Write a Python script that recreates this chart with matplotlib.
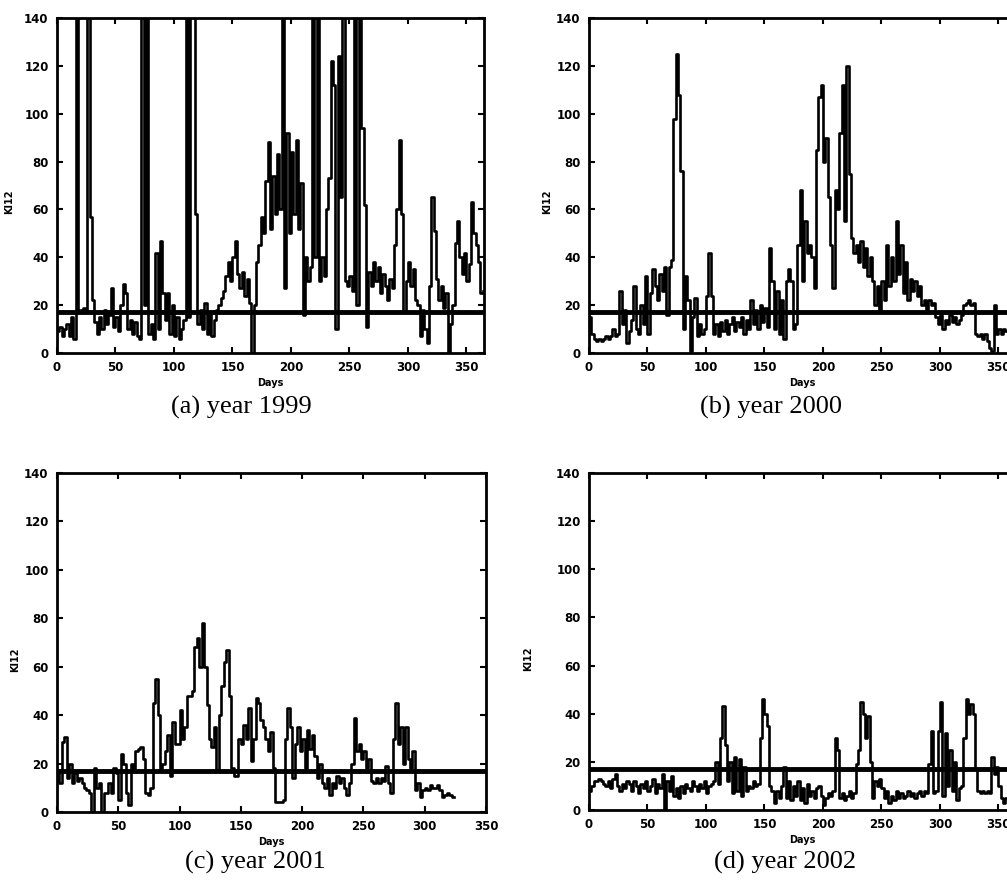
import numpy as np
import matplotlib
matplotlib.use('Agg')
import matplotlib.pyplot as plt

# daily index values, one reading every 2 days
vals_1999 = [9, 11, 7, 10, 12, 7, 15, 6, 160, 17,
             18, 19, 18, 160, 57, 22, 13, 8, 15, 10,
             18, 12, 16, 27, 11, 15, 9, 20, 29, 25,
             10, 14, 8, 13, 7, 6, 160, 20, 160, 8,
             12, 6, 42, 10, 47, 25, 14, 25, 8, 20,
             7, 15, 6, 10, 14, 160, 15, 160, 160, 58,
             12, 18, 10, 21, 8, 16, 7, 14, 18, 20,
             23, 26, 32, 38, 30, 40, 47, 33, 27, 34,
             24, 31, 21, 0, 20, 38, 45, 57, 50, 72,
             88, 52, 74, 58, 83, 60, 160, 27, 92, 50,
             84, 58, 89, 52, 71, 16, 40, 30, 36, 160,
             40, 160, 30, 40, 32, 60, 73, 122, 112, 10,
             124, 65, 160, 30, 28, 32, 26, 160, 20, 160,
             94, 62, 11, 34, 28, 38, 30, 36, 25, 33,
             28, 22, 31, 27, 45, 60, 89, 58, 17, 30,
             38, 28, 35, 22, 20, 7, 18, 10, 4, 28,
             65, 51, 31, 22, 28, 19, 25, 0, 12, 20,
             46, 55, 40, 33, 42, 30, 37, 63, 50, 45,
             38, 25, 26]

vals_2000 = [15, 8, 6, 5, 6, 5, 6, 7, 6, 7,
             10, 7, 8, 26, 12, 18, 4, 9, 14, 28,
             10, 8, 20, 12, 32, 8, 25, 35, 28, 22,
             33, 26, 36, 16, 36, 39, 98, 125, 108, 76,
             10, 32, 22, 1, 15, 23, 7, 12, 8, 10,
             24, 42, 24, 8, 12, 7, 13, 9, 14, 8,
             12, 15, 9, 13, 11, 15, 8, 14, 10, 22,
             12, 18, 10, 20, 13, 19, 11, 44, 30, 10,
             26, 8, 22, 6, 30, 35, 30, 10, 12, 45,
             68, 30, 55, 42, 45, 40, 27, 85, 107, 112,
             80, 90, 65, 45, 27, 68, 60, 92, 112, 55,
             120, 75, 48, 42, 45, 38, 47, 36, 44, 32,
             40, 30, 20, 28, 18, 30, 22, 45, 28, 40,
             30, 55, 33, 45, 25, 38, 22, 31, 26, 30,
             24, 28, 20, 22, 18, 22, 20, 21, 15, 12,
             16, 10, 14, 12, 16, 13, 15, 12, 14, 16,
             20, 21, 22, 20, 21, 8, 7, 8, 6, 8,
             5, 2, 1, 20, 8, 10, 8, 10, 9, 10,
             10, 9, 10]

vals_2001 = [17, 12, 29, 31, 14, 20, 12, 16, 13, 14,
             12, 10, 9, 8, 0, 18, 10, 12, 0, 8,
             8, 12, 8, 18, 16, 5, 24, 20, 8, 3,
             20, 18, 25, 26, 27, 22, 8, 7, 10, 45,
             55, 40, 18, 20, 25, 32, 15, 37, 28, 28,
             42, 30, 35, 48, 48, 50, 68, 72, 60, 78,
             60, 44, 30, 27, 35, 17, 40, 52, 62, 67,
             48, 18, 15, 15, 30, 28, 36, 30, 43, 21,
             30, 47, 45, 38, 35, 30, 25, 33, 18, 4,
             4, 4, 5, 30, 43, 35, 14, 28, 35, 25,
             30, 18, 34, 26, 32, 23, 14, 20, 12, 10,
             14, 7, 12, 10, 15, 12, 14, 10, 7, 12,
             20, 39, 25, 28, 22, 25, 18, 22, 13, 12,
             14, 12, 14, 13, 19, 12, 8, 30, 45, 28,
             35, 20, 35, 22, 18, 25, 9, 12, 6, 9,
             10, 9, 11, 10, 10, 11, 9, 6, 7, 8,
             7, 6, 6]

vals_2002 = [8, 10, 12, 12, 13, 12, 11, 10, 12, 9,
             13, 15, 10, 8, 11, 9, 12, 11, 8, 12,
             10, 7, 11, 9, 12, 8, 10, 13, 7, 11,
             9, 15, 0, 12, 8, 14, 6, 9, 5, 10,
             7, 11, 9, 8, 12, 10, 8, 11, 9, 12,
             7, 10, 11, 12, 20, 11, 30, 43, 27, 12,
             20, 7, 22, 8, 21, 6, 18, 8, 10, 9,
             12, 10, 11, 30, 46, 40, 35, 10, 8, 3,
             8, 5, 10, 18, 5, 12, 4, 10, 6, 12,
             4, 9, 3, 11, 6, 8, 5, 9, 10, 6,
             2, 5, 7, 6, 8, 30, 25, 5, 7, 4,
             6, 8, 5, 7, 19, 25, 45, 40, 30, 39,
             20, 5, 12, 10, 13, 9, 5, 8, 3, 6,
             4, 8, 5, 7, 5, 6, 8, 6, 7, 5,
             7, 8, 6, 8, 7, 19, 33, 7, 8, 33,
             45, 6, 32, 10, 25, 8, 20, 4, 9, 10,
             30, 46, 40, 44, 40, 17, 8, 7, 8, 7,
             8, 7, 22, 15, 18, 10, 5, 3, 5, 4,
             6, 5, 7]

THRESH = 17
titles = ['(a) year 1999', '(b) year 2000', '(c) year 2001', '(d) year 2002']
series = [vals_1999, vals_2000, vals_2001, vals_2002]
xlims = [365, 365, 350, 365]

W, H = 1007, 892
fig = plt.figure(figsize=(W / 100, H / 100), dpi=100)

# axes boxes in pixels: left, top, right, bottom
boxes = [(57, 18, 484, 353), (589, 18, 1016, 353),
         (57, 473, 486, 812), (589, 473, 1016, 810)]
title_pos = [(241, 407), (771, 407), (255, 862), (785, 862)]
ylab_x = [14, 552, 20, 533]

for k in range(4):
    l, t, r, b = boxes[k]
    ax = fig.add_axes([l / W, 1 - b / H, (r - l) / W, (b - t) / H])
    vals = np.array(series[k])
    days = np.arange(len(vals)) * 2
    ax.step(days, vals, where='post', color='k', lw=1.9)
    ax.axhline(THRESH, color='k', lw=3.5)
    ax.set_xlim(0, xlims[k])
    ax.set_ylim(0, 140)
    ax.set_xticks(np.arange(0, 351, 50))
    ax.set_yticks(np.arange(0, 141, 20))
    ax.tick_params(direction='in', top=True, right=True, length=4, width=1.5,
                   labelsize=8.5, pad=6)
    for lab in ax.get_xticklabels() + ax.get_yticklabels():
        lab.set_fontweight('bold')
    for sp in ax.spines.values():
        sp.set_linewidth(2)
    ax.set_xlabel('Days', fontsize=7, fontweight='bold', labelpad=0)
    ax.xaxis.set_label_coords(0.5, -0.075)
    ax.set_ylabel('KI12', fontsize=7, fontweight='bold')
    ax.yaxis.set_label_coords((ylab_x[k] - l) / (r - l), (b - (b - t) * 0.55 - t) / (b - t))
    tx, ty = title_pos[k]
    fig.text(tx / W, 1 - ty / H, titles[k], ha='center', va='center',
             fontsize=19, family='Liberation Serif')

fig.savefig('out.png', dpi=100)
